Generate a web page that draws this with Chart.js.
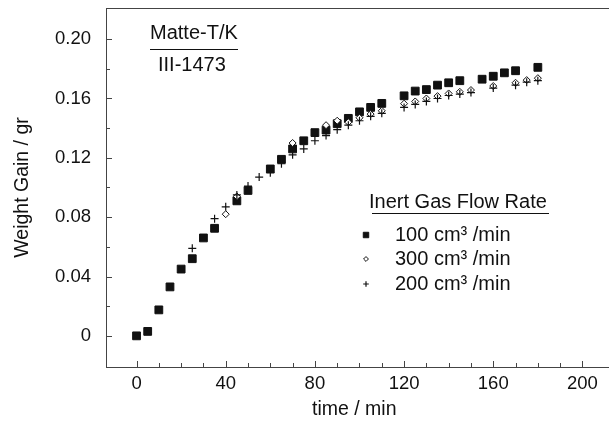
<!DOCTYPE html>
<html>
<head>
<meta charset="utf-8">
<script src="https://cdn.jsdelivr.net/npm/chart.js@4.4.1/dist/chart.umd.min.js"></script>
<style>
  html, body { margin: 0; padding: 0; background: #fff; }
  #wrap { width: 609px; height: 428px; }
</style>
</head>
<body>
<div id="wrap"><canvas id="gainChart" width="609" height="428"></canvas></div>
<script>
// Weight gain vs time for three inert gas flow rates (Matte-T/K, III-1473)
const time100 = [0, 5, 10, 15, 20, 25, 30, 35, 45, 50, 60, 65, 70, 75, 80, 85, 90, 95, 100, 105, 110, 120, 125, 130, 135, 140, 145, 155, 160, 165, 170, 180];
const gain100 = [0, 0.003, 0.0175, 0.033, 0.045, 0.052, 0.066, 0.0725, 0.091, 0.098, 0.1125, 0.119, 0.126, 0.1315, 0.137, 0.1387, 0.143, 0.1466, 0.151, 0.154, 0.1567, 0.1618, 0.165, 0.166, 0.169, 0.1706, 0.172, 0.173, 0.175, 0.1773, 0.1787, 0.181];

const time300 = [40, 45, 70, 85, 90, 95, 100, 105, 110, 120, 125, 130, 135, 140, 145, 150, 160, 170, 175, 180];
const gain300 = [0.082, 0.094, 0.130, 0.142, 0.145, 0.144, 0.147, 0.1495, 0.1517, 0.1565, 0.158, 0.160, 0.1616, 0.1634, 0.1645, 0.1657, 0.1684, 0.1706, 0.1724, 0.1737];

const time200 = [25, 35, 40, 45, 50, 55, 60, 65, 70, 75, 80, 85, 90, 95, 100, 105, 110, 120, 125, 130, 135, 140, 145, 150, 160, 170, 175, 180];
const gain200 = [0.059, 0.079, 0.087, 0.095, 0.101, 0.107, 0.110, 0.116, 0.122, 0.126, 0.1315, 0.135, 0.139, 0.142, 0.145, 0.148, 0.150, 0.154, 0.156, 0.158, 0.160, 0.162, 0.163, 0.164, 0.167, 0.169, 0.171, 0.172];

const xTickLabels = [0, 40, 80, 120, 160, 200];
const yTickLabels = [0, 0.04, 0.08, 0.12, 0.16, 0.20];
const xMinorStep = 10;
const yMinorStep = 0.02;

const seriesNames = ['100 cm\u00B3 /min', '300 cm\u00B3 /min', '200 cm\u00B3 /min'];

const toPoints = (xs, ys) => xs.map((t, i) => ({ x: t, y: ys[i] }));

// major + minor ticks between first and last label
function tickList(labels, step) {
  const out = [];
  const n = Math.round((labels[labels.length - 1] - labels[0]) / step);
  for (let k = 0; k <= n; k++) out.push(Math.round((labels[0] + k * step) * 1000) / 1000);
  return out;
}
const isMajor = (labels, v) => labels.some(l => Math.abs(l - v) < 1e-9);

const FONT = "'Liberation Sans', Arial, Helvetica, sans-serif";
const INK = '#111';

const markerStyles = [
  { pointStyle: 'rect', radius: 5.5, fill: INK, border: INK, borderWidth: 1 },
  { pointStyle: 'rectRot', radius: 3.5, fill: '#fff', border: INK, borderWidth: 1 },
  { pointStyle: 'cross', radius: 4, fill: INK, border: INK, borderWidth: 1.2 }
];

const annotations = {
  id: 'annotations',
  beforeDatasetsDraw(chart) {
    const { ctx, chartArea: a, scales: { x, y } } = chart;
    ctx.save();
    ctx.strokeStyle = '#444';
    ctx.lineWidth = 1;
    ctx.beginPath();
    // frame lines run on to the right edge of the picture
    ctx.moveTo(a.left, a.top + 0.5);
    ctx.lineTo(chart.width, a.top + 0.5);
    ctx.moveTo(a.right, a.bottom + 0.5);
    ctx.lineTo(chart.width, a.bottom + 0.5);
    // inward ticks
    x.ticks.forEach(t => {
      const px = Math.round(x.getPixelForValue(t.value)) + 0.5;
      const len = isMajor(xTickLabels, t.value) ? 6 : 4;
      ctx.moveTo(px, a.bottom);
      ctx.lineTo(px, a.bottom - len);
    });
    y.ticks.forEach(t => {
      const py = Math.round(y.getPixelForValue(t.value)) + 0.5;
      const len = isMajor(yTickLabels, t.value) ? 6 : 4;
      ctx.moveTo(a.left, py);
      ctx.lineTo(a.left + len, py);
    });
    ctx.stroke();
    ctx.restore();
  },
  afterDatasetsDraw(chart) {
    const { ctx, chartArea: a } = chart;
    ctx.save();
    ctx.fillStyle = INK;
    ctx.strokeStyle = INK;
    ctx.textBaseline = 'middle';
    ctx.textAlign = 'left';
    ctx.font = '20px ' + FONT;

    // sample label
    ctx.fillText('Matte-T/K', a.left + 44, 33);
    ctx.lineWidth = 1;
    ctx.beginPath();
    ctx.moveTo(a.left + 44, 49.5);
    ctx.lineTo(a.left + 132, 49.5);
    ctx.stroke();
    ctx.fillText('III-1473', a.left + 52, 65);

    // legend
    ctx.fillText('Inert Gas Flow Rate', 369, 202);
    ctx.beginPath();
    ctx.moveTo(372, 213.5);
    ctx.lineTo(549, 213.5);
    ctx.stroke();

    const rows = [235, 259, 284];
    seriesNames.forEach((name, i) => {
      const m = markerStyles[i];
      ctx.fillStyle = m.fill;
      ctx.strokeStyle = m.border;
      ctx.lineWidth = m.borderWidth;
      Chart.helpers.drawPoint(ctx, { pointStyle: m.pointStyle, radius: m.radius * 0.7, rotation: 0, borderWidth: m.borderWidth }, 366, rows[i]);
      ctx.fillStyle = INK;
      ctx.fillText(name, 395, rows[i]);
    });
    ctx.restore();
  }
};

const datasets = [[time100, gain100], [time300, gain300], [time200, gain200]].map(([xs, ys], i) => ({
  label: seriesNames[i],
  data: toPoints(xs, ys),
  showLine: false,
  pointStyle: markerStyles[i].pointStyle,
  pointRadius: markerStyles[i].radius,
  pointBackgroundColor: markerStyles[i].fill,
  pointBorderColor: markerStyles[i].border,
  pointBorderWidth: markerStyles[i].borderWidth
}));

const ctx = document.getElementById('gainChart').getContext('2d');
new Chart(ctx, {
  type: 'scatter',
  data: { datasets: datasets.reverse() },
  options: {
    responsive: false,
    animation: false,
    layout: { padding: { top: 8, right: 0, left: 0, bottom: 0 } },
    plugins: { legend: { display: false }, tooltip: { enabled: false } },
    scales: {
      x: {
        type: 'linear',
        min: -13.7,
        max: 209,
        afterBuildTicks: s => { s.ticks = tickList(xTickLabels, xMinorStep).map(v => ({ value: v })); },
        afterFit: s => { s.height = 61; s.paddingLeft = 0; s.paddingRight = 0; },
        grid: { display: false, drawTicks: false },
        border: { display: true, color: '#444', width: 1 },
        ticks: {
          autoSkip: false, maxRotation: 0, padding: 6, color: INK,
          font: { family: FONT, size: 18.5 },
          callback: v => isMajor(xTickLabels, v) ? String(v) : ''
        },
        title: { display: true, text: 'time / min', color: INK, font: { family: FONT, size: 19.5 }, padding: { top: 0, bottom: 7 } }
      },
      y: {
        type: 'linear',
        min: -0.021,
        max: 0.221,
        afterBuildTicks: s => { s.ticks = tickList(yTickLabels, yMinorStep).map(v => ({ value: v })); },
        afterFit: s => { s.width = 106; s.paddingTop = 0; s.paddingBottom = 0; },
        grid: { display: false, drawTicks: false },
        border: { display: true, color: '#444', width: 1 },
        ticks: {
          autoSkip: false, padding: 15, color: INK,
          font: { family: FONT, size: 18.5 },
          callback: v => isMajor(yTickLabels, v) ? (v === 0 ? '0' : v.toFixed(2)) : ''
        },
        title: { display: true, text: 'Weight Gain / gr', color: INK, font: { family: FONT, size: 19.5 }, padding: { top: 11, bottom: 0 } }
      }
    }
  },
  plugins: [annotations]
});
</script>
</body>
</html>
